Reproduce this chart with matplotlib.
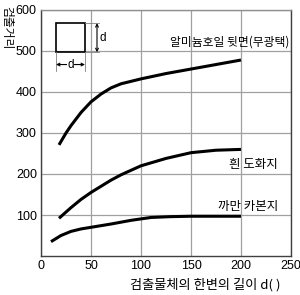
import matplotlib
matplotlib.use("Agg")
import matplotlib.pyplot as plt
from matplotlib.patches import Rectangle

plt.rcParams['font.family'] = ['Liberation Sans', 'Noto Sans CJK KR', 'DejaVu Sans']

# Data
alu_x = [18, 25, 30, 40, 50, 60, 70, 80, 100, 125, 150, 175, 200]
alu_y = [271, 300, 318, 350, 376, 395, 410, 420, 432, 445, 456, 467, 478]
white_x = [18, 30, 40, 50, 60, 70, 80, 100, 125, 150, 175, 200]
white_y = [92, 118, 138, 155, 170, 185, 198, 220, 238, 252, 258, 260]
carbon_x = [10, 20, 30, 40, 50, 70, 90, 110, 130, 150, 200]
carbon_y = [35, 50, 60, 66, 70, 78, 87, 94, 96, 97, 97]
labels = ["알미늄호일 뒷면(무광택)", "흰 도화지", "까만 카본지"]
xticks = [0, 50, 100, 150, 200, 250]
yticks = [100, 200, 300, 400, 500, 600]
xlabel = "검출물체의 한변의 길이 d( )"
ylabel = "검출거리"

fig = plt.figure(figsize=(3.0, 2.95), dpi=100)
ax = fig.add_axes([41/300, 1-256/295, 250/300, 246/295])
ax.set_xlim(0, 250)
ax.set_ylim(0, 600)
ax.set_xticks(xticks)
ax.set_yticks(yticks)
ax.grid(True, color='#a0a0a0', linewidth=0.9)
ax.set_axisbelow(True)
ax.tick_params(length=0, labelsize=9, pad=3)
for s in ax.spines.values():
    s.set_color('#404040')
    s.set_linewidth(1.0)
ax.spines['top'].set_color('#909090')

for x, y in [(alu_x, alu_y), (white_x, white_y), (carbon_x, carbon_y)]:
    ax.plot(x, y, color='black', linewidth=2.2, solid_capstyle='butt')

kfont = ['Noto Sans CJK KR', 'DejaVu Sans']
ax.text(248, 522, labels[0], ha='right', va='center', fontsize=8.5, family=kfont)
ax.text(237, 222, labels[1], ha='right', va='center', fontsize=9, family=kfont)
ax.text(237, 120, labels[2], ha='right', va='center', fontsize=9, family=kfont)

# inset square symbol
ax.add_patch(Rectangle((15, 497), 29, 71, fill=False, edgecolor='black', linewidth=1.2))
ax.plot([44, 58], [568, 568], color='#808080', lw=0.6)
ax.plot([44, 58], [497, 497], color='#808080', lw=0.6)
ax.annotate('', xy=(56, 568), xytext=(56, 497),
            arrowprops=dict(arrowstyle='<->', lw=0.8, color='black', shrinkA=0, shrinkB=0,
                            mutation_scale=5))
ax.text(59, 532, 'd', ha='left', va='center', fontsize=8.5)
ax.plot([15, 15], [497, 452], color='#808080', lw=0.6)
ax.plot([44, 44], [497, 452], color='#808080', lw=0.6)
ax.annotate('', xy=(15, 467), xytext=(44, 467),
            arrowprops=dict(arrowstyle='<->', lw=0.8, color='black', shrinkA=0, shrinkB=0,
                            mutation_scale=5))
ax.text(29.5, 467, 'd', ha='center', va='center', fontsize=8.5,
        bbox=dict(facecolor='white', edgecolor='none', pad=0.5))

fig.text(205/300, 1-285/295, xlabel, ha='center', va='center', fontsize=9.5, family=kfont)
fig.text(7/300, 1-28/295, ylabel, ha='center', va='center', fontsize=8.5, family=kfont,
         rotation=-90)

fig.savefig('out.png', dpi=100)
